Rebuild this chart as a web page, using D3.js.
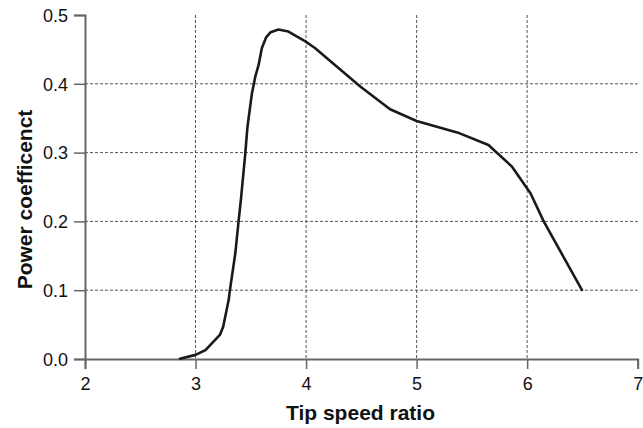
<!DOCTYPE html>
<html><head><meta charset="utf-8">
<script src="https://cdn.jsdelivr.net/npm/d3@7"></script>
<style>body{margin:0;background:#fff}svg{display:block}text{font-family:"Liberation Sans",Arial,sans-serif}</style>
</head><body>
<svg id="c" width="643" height="428"></svg>
<script>
const tsr = [2.85,3.0,3.09,3.22,3.25,3.30,3.31,3.36,3.39,3.41,3.45,3.47,3.51,3.54,3.57,3.60,3.64,3.68,3.75,3.84,3.99,4.08,4.49,4.76,5.00,5.39,5.65,5.86,6.03,6.15,6.50];
const cp  = [0.0,0.006,0.013,0.035,0.047,0.086,0.099,0.154,0.201,0.231,0.299,0.338,0.386,0.410,0.427,0.452,0.468,0.475,0.479,0.476,0.462,0.452,0.396,0.363,0.346,0.328,0.311,0.280,0.241,0.200,0.099];
const xTicks = [2,3,4,5,6,7];
const yTicks = [0.0,0.1,0.2,0.3,0.4,0.5];
const xTitle = "Tip speed ratio";
const yTitle = "Power coefficenct";

const svg = d3.select("#c");
const x = d3.scaleLinear().domain([2,7]).range([85,637.7]);
const y = d3.scaleLinear().domain([0,0.5]).range([359,15]);

// grid
const g = svg.append("g");
g.selectAll(".vg").data(xTicks.filter(d=>d>2&&d<7)).enter().append("line")
  .attr("x1",d=>x(d)).attr("x2",d=>x(d)).attr("y1",y(0.5)).attr("y2",y(0))
  .attr("stroke","#555").attr("stroke-width",1).attr("stroke-dasharray","3,2");
g.selectAll(".hg").data(yTicks.filter(d=>d>0&&d<0.5)).enter().append("line")
  .attr("x1",x(2)).attr("x2",x(7)).attr("y1",d=>y(d)).attr("y2",d=>y(d))
  .attr("stroke","#555").attr("stroke-width",1).attr("stroke-dasharray","3,2");

// axes
const xa = svg.append("g").attr("transform",`translate(0,${y(0)})`)
  .call(d3.axisBottom(x).tickValues(xTicks).tickFormat(d3.format("d")).tickSize(10).tickPadding(8));
const ya = svg.append("g").attr("transform",`translate(${x(2)},0)`)
  .call(d3.axisLeft(y).tickValues(yTicks).tickFormat(d3.format(".1f")).tickSize(11).tickPadding(6));
[xa,ya].forEach(a=>{
  a.select(".domain").attr("stroke","#666").attr("stroke-width",2);
  a.selectAll(".tick line").attr("stroke","#666").attr("stroke-width",1.5);
  a.selectAll(".tick text").attr("fill","#111").style("font-size","18px");
});
ya.selectAll(".tick text").attr("dy","0.35em");

// curve
svg.append("path").datum(tsr.map((d,i)=>[d,cp[i]]))
  .attr("fill","none").attr("stroke","#1a1a1a").attr("stroke-width",2.6)
  .attr("stroke-linejoin","round")
  .attr("d",d3.line().x(d=>x(d[0])).y(d=>y(d[1])));

// titles
svg.append("text").attr("x",360.5).attr("y",420).attr("text-anchor","middle")
  .style("font-size","21px").style("font-weight","bold").attr("fill","#111").text(xTitle);
svg.append("text").attr("transform","translate(32,199.5) rotate(-90)").attr("text-anchor","middle")
  .style("font-size","21px").style("font-weight","bold").attr("fill","#111").text(yTitle);
</script>
</body></html>
